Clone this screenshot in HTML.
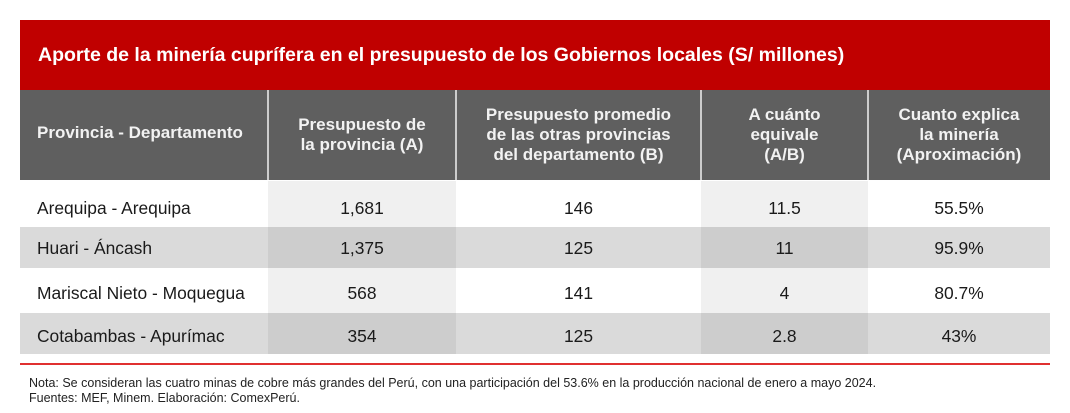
<!DOCTYPE html>
<html><head><meta charset="utf-8"><style>
body{margin:0;width:1070px;height:413px;background:#fff;font-family:"Liberation Sans",Arial,sans-serif;position:relative;overflow:hidden}
div{position:absolute;box-sizing:border-box}
.t{display:flex;align-items:center;justify-content:center;text-align:center}
.l{display:flex;align-items:center;left:37px;width:230px}
.h{color:#f2f2f2;font-weight:bold;font-size:17px;line-height:20px}
.c{font-size:17.4px;color:#1a1a1a}
</style></head><body>
<div style="left:20px;top:20px;width:1030px;height:70px;background:#c00000"></div>
<div style="left:38px;top:44px;color:#fff;font-weight:bold;font-size:19.5px">Aporte de la minería cuprífera en el presupuesto de los Gobiernos locales (S/ millones)</div>
<div style="left:20px;top:90px;width:1030px;height:90px;background:#5f5f5f"></div>
<div style="left:267px;top:90px;width:2px;height:90px;background:#ccc"></div>
<div style="left:455px;top:90px;width:2px;height:90px;background:#ccc"></div>
<div style="left:700px;top:90px;width:2px;height:90px;background:#ccc"></div>
<div style="left:867px;top:90px;width:2px;height:90px;background:#ccc"></div>
<div class="h l" style="top:90px;height:86px">Provincia - Departamento</div>
<div class="t h" style="left:268px;top:90px;width:188px;height:90px">Presupuesto de<br>la provincia (A)</div>
<div class="t h" style="left:456px;top:90px;width:245px;height:90px">Presupuesto promedio<br>de las otras provincias<br>del departamento (B)</div>
<div class="t h" style="left:701px;top:90px;width:167px;height:90px">A cuánto<br>equivale<br>(A/B)</div>
<div class="t h" style="left:868px;top:90px;width:182px;height:90px">Cuanto explica<br>la minería<br>(Aproximación)</div>
<div style="left:20px;top:227px;width:1030px;height:41px;background:#dadada"></div>
<div style="left:20px;top:313px;width:1030px;height:41px;background:#dadada"></div>
<div style="left:268px;top:181px;width:188px;height:173px;background:rgba(0,0,0,0.06)"></div>
<div style="left:701px;top:181px;width:167px;height:173px;background:rgba(0,0,0,0.06)"></div>
<div style="left:20px;top:363px;width:1030px;height:2px;background:#e03030"></div>

<div class="c l" style="top:187px;height:42px">Arequipa - Arequipa</div>
<div class="c l" style="top:228px;height:41px">Huari - Áncash</div>
<div class="c l" style="top:272px;height:42px">Mariscal Nieto - Moquegua</div>
<div class="c l" style="top:316px;height:41px">Cotabambas - Apurímac</div>

<div class="t c" style="left:268px;top:187px;width:188px;height:42px">1,681</div>
<div class="t c" style="left:268px;top:228px;width:188px;height:41px">1,375</div>
<div class="t c" style="left:268px;top:272px;width:188px;height:42px">568</div>
<div class="t c" style="left:268px;top:316px;width:188px;height:41px">354</div>

<div class="t c" style="left:456px;top:187px;width:245px;height:42px">146</div>
<div class="t c" style="left:456px;top:228px;width:245px;height:41px">125</div>
<div class="t c" style="left:456px;top:272px;width:245px;height:42px">141</div>
<div class="t c" style="left:456px;top:316px;width:245px;height:41px">125</div>

<div class="t c" style="left:701px;top:187px;width:167px;height:42px">11.5</div>
<div class="t c" style="left:701px;top:228px;width:167px;height:41px">11</div>
<div class="t c" style="left:701px;top:272px;width:167px;height:42px">4</div>
<div class="t c" style="left:701px;top:316px;width:167px;height:41px">2.8</div>

<div class="t c" style="left:868px;top:187px;width:182px;height:42px">55.5%</div>
<div class="t c" style="left:868px;top:228px;width:182px;height:41px">95.9%</div>
<div class="t c" style="left:868px;top:272px;width:182px;height:42px">80.7%</div>
<div class="t c" style="left:868px;top:316px;width:182px;height:41px">43%</div>

<div style="left:29px;top:376px;font-size:12.5px;color:#222">Nota: Se consideran las cuatro minas de cobre más grandes del Perú, con una participación del 53.6% en la producción nacional de enero a mayo 2024.</div>
<div style="left:29px;top:391px;font-size:12.5px;color:#222">Fuentes: MEF, Minem. Elaboración: ComexPerú.</div>
</body></html>
